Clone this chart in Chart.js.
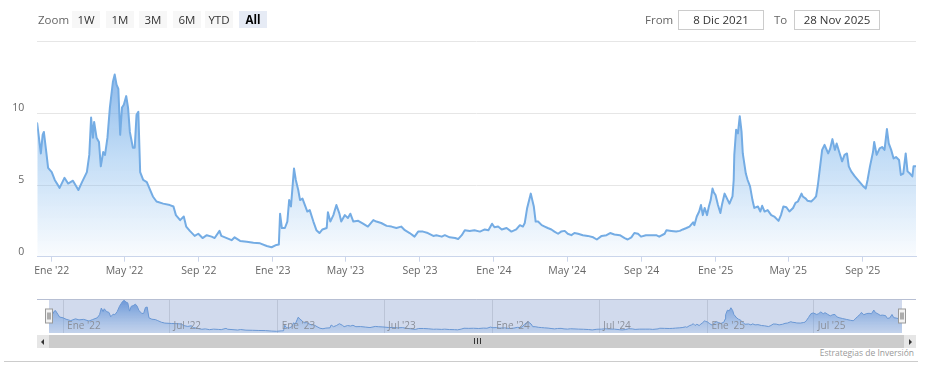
<!DOCTYPE html>
<html>
<head>
<meta charset="utf-8">
<script src="https://cdn.jsdelivr.net/npm/chart.js@4.4.0/dist/chart.umd.min.js"></script>
<style>
  html,body{margin:0;padding:0;background:#fff;}
  body{width:928px;height:383px;overflow:hidden;position:relative;font-family:'Open Sans',sans-serif;}
  canvas{position:absolute;left:0;}
  #main{top:0;}
  #nav{top:290px;}
  .txt{position:absolute;top:10px;height:19px;line-height:19px;font-size:11.5px;color:#666;}
  .btn{position:absolute;top:11px;width:28px;height:17px;line-height:17px;font-size:11.5px;color:#333;background:#f7f7f7;text-align:center;}
  .btn.sel{background:#e6ebf5;font-weight:bold;color:#000;}
  .inp{position:absolute;top:10px;height:18px;line-height:18px;border:1px solid #ccc;font-size:11.5px;color:#333;text-align:center;box-sizing:content-box;}
  .sb{position:absolute;}
  #credit{position:absolute;right:14px;top:347px;font-size:8.5px;color:#999;}
  #bottomLine{position:absolute;left:4px;top:361px;width:914px;height:1px;background:#ccc;}
</style>
</head>
<body>
<canvas id="main" width="928" height="290"></canvas>
<canvas id="nav" width="928" height="45"></canvas>

<div class="txt" style="left:38px;">Zoom</div>
<div id="buttons"></div>
<div class="txt" style="left:645px;">From</div>
<div class="inp" style="left:678px;width:84px;" id="fromBox"></div>
<div class="txt" style="left:774px;">To</div>
<div class="inp" style="left:794px;width:84px;" id="toBox"></div>

<div class="sb" style="left:37px;top:335px;width:879px;height:13px;background:#f2f2f2;"></div>
<div class="sb" style="left:37px;top:335px;width:12px;height:13px;background:#e6e6e6;"></div>
<div class="sb" style="left:904px;top:335px;width:12px;height:13px;background:#e6e6e6;"></div>
<div class="sb" style="left:41px;top:338.5px;width:0;height:0;border-top:3px solid transparent;border-bottom:3px solid transparent;border-right:3px solid #333;"></div>
<div class="sb" style="left:909px;top:338.5px;width:0;height:0;border-top:3px solid transparent;border-bottom:3px solid transparent;border-left:3px solid #333;"></div>
<div class="sb" style="left:49px;top:335px;width:855px;height:13px;background:#cccccc;"></div>
<div class="sb" style="left:474px;top:338px;width:1px;height:6px;background:#333;"></div>
<div class="sb" style="left:477px;top:338px;width:1px;height:6px;background:#333;"></div>
<div class="sb" style="left:480px;top:338px;width:1px;height:6px;background:#333;"></div>
<div id="credit">Estrategias de Inversión</div>
<div id="bottomLine"></div>

<script>
// ---------------- DATA ----------------
const rangeButtons = ['1W','1M','3M','6M','YTD','All'];
const selectedButton = 'All';
const fromLabel = '8 Dic 2021';
const toLabel = '28 Nov 2025';

const dates2021 = ['2021-12-08','2021-12-14','2021-12-17','2021-12-19','2021-12-23','2021-12-26'];
const values2021 = [9.3,7.2,8.5,8.7,7.3,6.2];

const dates2022 = [
  '2022-01-01','2022-01-06','2022-01-14','2022-01-22','2022-01-28',
  '2022-02-05','2022-02-14','2022-02-20','2022-02-28',
  '2022-03-04','2022-03-07','2022-03-10','2022-03-12','2022-03-16','2022-03-20','2022-03-23','2022-03-27','2022-03-30',
  '2022-04-03','2022-04-07','2022-04-12','2022-04-15','2022-04-18','2022-04-21','2022-04-24','2022-04-27','2022-04-30',
  '2022-05-04','2022-05-07','2022-05-10','2022-05-15','2022-05-18','2022-05-21','2022-05-24','2022-05-27',
  '2022-06-01','2022-06-07','2022-06-11','2022-06-17','2022-06-23',
  '2022-07-04','2022-07-15','2022-07-21','2022-07-25',
  '2022-08-01','2022-08-07','2022-08-11','2022-08-17','2022-08-25','2022-08-31',
  '2022-09-07','2022-09-14','2022-09-22','2022-09-27',
  '2022-10-05','2022-10-08','2022-10-17','2022-10-25','2022-10-30',
  '2022-11-08','2022-11-19','2022-11-30',
  '2022-12-11','2022-12-22','2022-12-30'];
const values2022 = [
  5.9,5.35,4.8,5.5,5.1,
  5.3,4.65,5.2,5.9,
  7.1,9.7,8.3,9.4,8.3,8.0,6.3,7.3,7.1,
  8.3,10.4,12.2,12.7,12.0,11.7,8.5,10.4,10.6,
  11.2,10.4,8.7,7.6,7.6,9.9,10.1,5.9,
  5.35,5.2,4.8,4.2,3.85,
  3.7,3.6,3.5,2.9,
  2.55,2.8,2.1,1.8,1.45,1.6,
  1.3,1.5,1.4,1.3,
  1.8,1.45,1.3,1.15,1.35,
  1.1,1.05,0.98,
  0.93,0.75,0.66];

const dates2023 = [
  '2023-01-07','2023-01-11','2023-01-13','2023-01-16','2023-01-21','2023-01-25','2023-01-28','2023-01-31',
  '2023-02-03','2023-02-05','2023-02-08','2023-02-12','2023-02-15','2023-02-19','2023-02-23','2023-02-27',
  '2023-03-03','2023-03-09','2023-03-14','2023-03-19','2023-03-24','2023-03-31',
  '2023-04-02','2023-04-06','2023-04-11','2023-04-16','2023-04-21','2023-04-24','2023-04-30',
  '2023-05-05','2023-05-09','2023-05-14','2023-05-22','2023-05-30',
  '2023-06-07','2023-06-16','2023-06-21','2023-06-29',
  '2023-07-08','2023-07-16','2023-07-24',
  '2023-08-01','2023-08-07','2023-08-15','2023-08-23','2023-08-29',
  '2023-09-06','2023-09-14','2023-09-23','2023-09-28',
  '2023-10-07','2023-10-12','2023-10-20','2023-10-29',
  '2023-11-03','2023-11-09','2023-11-14','2023-11-22','2023-11-30',
  '2023-12-09','2023-12-17','2023-12-23','2023-12-29'];
const values2023 = [
  0.82,0.85,3.0,2.0,2.0,2.45,3.95,3.5,
  5.1,6.15,5.35,4.65,3.95,4.05,3.6,3.15,
  3.25,2.45,1.85,1.65,1.9,2.0,
  3.1,2.45,2.9,3.6,3.0,2.45,2.9,
  2.7,3.0,2.45,2.5,2.3,
  2.1,2.55,2.45,2.35,
  2.15,2.1,2.0,
  2.1,1.85,1.65,1.4,1.75,
  1.75,1.65,1.45,1.5,
  1.4,1.5,1.35,1.3,
  1.23,1.5,1.85,1.8,1.85,
  1.75,1.9,1.85,2.3];

const dates2024 = [
  '2024-01-02','2024-01-08','2024-01-14','2024-01-22','2024-01-30',
  '2024-02-07','2024-02-13','2024-02-18','2024-02-21','2024-02-25','2024-02-28',
  '2024-03-02','2024-03-05','2024-03-07','2024-03-10','2024-03-14','2024-03-20','2024-03-25','2024-03-30',
  '2024-04-05','2024-04-10','2024-04-16','2024-04-21','2024-04-27',
  '2024-05-02','2024-05-08','2024-05-13','2024-05-19','2024-05-27',
  '2024-06-04','2024-06-13','2024-06-19','2024-06-27',
  '2024-07-05','2024-07-11','2024-07-18','2024-07-27',
  '2024-08-04','2024-08-09','2024-08-15','2024-08-20','2024-08-26','2024-08-31',
  '2024-09-08','2024-09-17','2024-09-25','2024-09-30',
  '2024-10-09','2024-10-12','2024-10-20','2024-10-28',
  '2024-11-03','2024-11-08','2024-11-14','2024-11-19','2024-11-25','2024-11-27',
  '2024-12-01','2024-12-05','2024-12-08','2024-12-11','2024-12-14','2024-12-18','2024-12-21','2024-12-24','2024-12-27','2024-12-29'];
const values2024 = [
  2.05,2.1,1.9,2.0,1.75,
  1.9,2.2,2.1,2.35,3.4,3.9,
  4.4,3.85,3.5,2.45,2.45,2.2,2.1,2.0,
  1.9,1.75,1.6,1.75,1.8,
  1.6,1.5,1.65,1.6,1.5,
  1.45,1.35,1.2,1.45,
  1.5,1.65,1.55,1.5,
  1.3,1.2,1.35,1.65,1.6,1.4,
  1.5,1.5,1.5,1.4,
  1.6,1.85,1.8,1.75,
  1.8,1.9,2.0,2.1,2.4,2.2,
  2.8,3.15,3.6,2.9,3.4,2.9,3.5,3.95,4.75,4.5];

const dates2025 = [
  '2025-01-01','2025-01-05','2025-01-09','2025-01-12','2025-01-16','2025-01-20','2025-01-24','2025-01-29','2025-01-31',
  '2025-02-01','2025-02-04','2025-02-07','2025-02-10','2025-02-13','2025-02-15','2025-02-20','2025-02-23','2025-02-27',
  '2025-03-03','2025-03-06','2025-03-12','2025-03-16','2025-03-19','2025-03-23','2025-03-28',
  '2025-04-03','2025-04-08','2025-04-15','2025-04-19','2025-04-23','2025-04-28',
  '2025-05-03','2025-05-09','2025-05-13','2025-05-17','2025-05-23','2025-05-25','2025-05-30',
  '2025-06-02','2025-06-08','2025-06-13','2025-06-16','2025-06-19','2025-06-22','2025-06-26','2025-06-30',
  '2025-07-06','2025-07-09','2025-07-13','2025-07-17','2025-07-20','2025-07-25','2025-07-29',
  '2025-08-02','2025-08-06','2025-08-09','2025-08-13','2025-08-19','2025-08-26',
  '2025-09-01','2025-09-06','2025-09-09','2025-09-13','2025-09-18','2025-09-20','2025-09-24','2025-09-29',
  '2025-10-03','2025-10-07','2025-10-11','2025-10-14','2025-10-18','2025-10-22','2025-10-26','2025-10-31',
  '2025-11-03','2025-11-07','2025-11-11','2025-11-14','2025-11-18','2025-11-22','2025-11-24','2025-11-28'];
const values2025 = [
  4.3,3.6,3.05,3.7,4.4,4.05,3.7,4.2,5.35,
  7.1,8.85,8.6,9.8,8.7,7.2,5.8,5.35,4.9,
  3.95,3.4,3.5,3.15,3.55,3.15,3.25,
  2.9,2.8,2.5,2.9,3.5,3.45,
  3.15,3.4,3.75,3.85,4.4,4.2,4.05,
  3.9,3.85,4.05,4.2,5.0,6.05,7.45,7.8,
  7.2,7.5,8.2,7.45,7.9,7.2,6.65,
  7.1,7.2,6.3,5.95,5.6,5.25,
  4.95,4.75,5.35,6.3,7.3,8.0,7.1,7.55,
  7.65,7.45,8.9,7.9,7.45,6.85,6.95,6.75,
  5.7,5.8,7.2,5.95,5.8,5.6,6.3,6.3];

const mainTickDates = ['2022-01-01','2022-05-01','2022-09-01','2023-01-01','2023-05-01','2023-09-01',
                       '2024-01-01','2024-05-01','2024-09-01','2025-01-01','2025-05-01','2025-09-01'];
const mainTickLabels = ["Ene '22","May '22","Sep '22","Ene '23","May '23","Sep '23",
                        "Ene '24","May '24","Sep '24","Ene '25","May '25","Sep '25"];
const navTickDates = ['2022-01-01','2022-07-01','2023-01-01','2023-07-01','2024-01-01','2024-07-01','2025-01-01','2025-07-01'];
const navTickLabels = ["Ene '22","Jul '22","Ene '23","Jul '23","Ene '24","Jul '24","Ene '25","Jul '25"];
const yTickValues = [0,5,10,15];
const rangeStart = '2021-12-08';
const rangeEnd = '2025-11-28';

// ---------------- BUILD ----------------
function t(s){ const p = s.split('-').map(Number); return Date.UTC(p[0], p[1]-1, p[2]); }
const allDates = [].concat(dates2021, dates2022, dates2023, dates2024, dates2025);
const allValues = [].concat(values2021, values2022, values2023, values2024, values2025);
const points = allDates.map((d,i)=>({x:t(d), y:allValues[i]}));

document.getElementById('fromBox').textContent = fromLabel;
document.getElementById('toBox').textContent = toLabel;
const btnLeft = [72,106,139,173,205,239];
const bc = document.getElementById('buttons');
rangeButtons.forEach((b,i)=>{
  const el = document.createElement('div');
  el.className = 'btn' + (b===selectedButton?' sel':'');
  el.style.left = btnLeft[i]+'px';
  el.textContent = b;
  bc.appendChild(el);
});

const FONT = "'Open Sans', sans-serif";

function areaGradient(ctx, stops){
  const chart = ctx.chart; const a = chart.chartArea;
  if(!a) return 'rgba(124,181,236,0.4)';
  const g = chart.ctx.createLinearGradient(0, a.top, 0, a.bottom);
  stops.forEach(s=>g.addColorStop(s[0], s[1]));
  return g;
}

new Chart(document.getElementById('main'), {
  type: 'line',
  data: { datasets: [{
    data: points,
    borderColor: '#74ace4',
    borderWidth: 2,
    borderJoinStyle: 'round',
    borderCapStyle: 'round',
    pointRadius: 0,
    tension: 0,
    fill: 'origin',
    backgroundColor: (ctx)=>areaGradient(ctx, [[0,'rgba(105,160,225,0.9)'],[0.55,'rgba(124,181,236,0.45)'],[1,'rgba(124,181,236,0.04)']])
  }]},
  options: {
    responsive: false, animation: false, devicePixelRatio: 1,
    layout: { padding: { left: 0, right: 12, top: 41.6, bottom: 0 } },
    plugins: { legend: {display:false}, tooltip: {enabled:false} },
    scales: {
      x: {
        type: 'linear', min: t(rangeStart), max: t(rangeEnd),
        afterBuildTicks: s => { s.ticks = mainTickDates.map(d=>({value:t(d)})); },
        afterFit: s => { s.height = 33.3; },
        grid: { drawOnChartArea: false, drawTicks: true, tickLength: 5, color: '#ccd6eb' },
        border: { color: '#ccd6eb', width: 1 },
        ticks: { autoSkip: false, maxRotation: 0, padding: 3, color: '#666',
                 font: { family: FONT, size: 10.5 },
                 callback: (v, i) => mainTickLabels[i] }
      },
      y: {
        min: 0, max: 15,
        afterBuildTicks: s => { s.ticks = yTickValues.map(v=>({value:v})); },
        afterFit: s => { s.width = 37.2; },
        grid: { color: '#e6e6e6', drawTicks: false, tickLength: 0 },
        border: { display: false },
        ticks: { padding: 13, labelOffset: -5, color: '#666', font: { family: FONT, size: 10.5 },
                 callback: v => v === 15 ? '' : String(v) }
      }
    }
  }
});

const navPlugin = {
  id: 'navDecor',
  afterDatasetsDraw(chart){
    const {ctx, chartArea:a} = chart;
    const xs = chart.scales.x;
    ctx.save();
    ctx.fillStyle = 'rgba(102,133,194,0.3)';
    ctx.fillRect(a.left, a.top, a.right-a.left, a.bottom-a.top);
    ctx.strokeStyle = '#b7bfd3'; ctx.lineWidth = 1;
    ctx.beginPath(); ctx.moveTo(37, a.top+0.5); ctx.lineTo(916, a.top+0.5); ctx.stroke();
    ctx.font = "10px " + FONT; ctx.fillStyle = '#8a8f99'; ctx.textAlign = 'left'; ctx.textBaseline = 'middle';
    navTickDates.forEach((d,i)=>{
      ctx.fillText(navTickLabels[i], xs.getPixelForValue(t(d)) + 4, a.bottom - 6.5);
    });
    const cy = (a.top + a.bottom)/2;
    [a.left, a.right].forEach(x=>{
      ctx.fillStyle = '#f2f2f2'; ctx.strokeStyle = '#999';
      ctx.fillRect(x-3.5, cy-7, 7, 14); ctx.strokeRect(x-3.5, cy-7, 7, 14);
      ctx.strokeStyle = '#666';
      ctx.beginPath();
      ctx.moveTo(x-1, cy-3.5); ctx.lineTo(x-1, cy+3.5);
      ctx.moveTo(x+1, cy-3.5); ctx.lineTo(x+1, cy+3.5);
      ctx.stroke();
    });
    ctx.restore();
  }
};

new Chart(document.getElementById('nav'), {
  type: 'line',
  data: { datasets: [{
    data: points,
    borderColor: '#6b9fdb',
    borderWidth: 1,
    pointRadius: 0,
    tension: 0,
    fill: 'origin',
    backgroundColor: (ctx)=>areaGradient(ctx, [[0,'rgba(90,145,220,0.9)'],[1,'rgba(124,181,236,0.15)']])
  }]},
  options: {
    responsive: false, animation: false, devicePixelRatio: 1,
    layout: { padding: { left: 49, right: 26, top: 9, bottom: 2 } },
    plugins: { legend: {display:false}, tooltip: {enabled:false} },
    scales: {
      x: {
        type: 'linear', min: t(rangeStart), max: t(rangeEnd),
        afterBuildTicks: s => { s.ticks = navTickDates.map(d=>({value:t(d)})); },
        afterFit: s => { s.height = 0; },
        grid: { color: '#e0e0e0', drawTicks: false },
        border: { display: false },
        ticks: { display: false }
      },
      y: { display: false, min: 0, max: 13.2 }
    }
  },
  plugins: [navPlugin]
});
</script>
</body>
</html>
